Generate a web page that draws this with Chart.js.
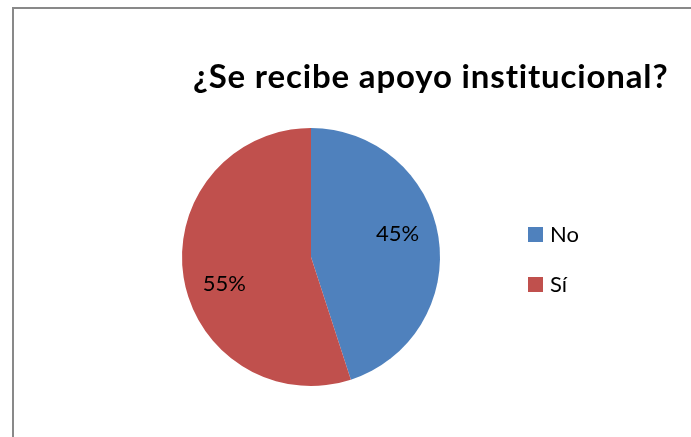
<!DOCTYPE html>
<html><head><meta charset="utf-8">
<script src="https://cdn.jsdelivr.net/npm/chart.js@4.4.1/dist/chart.umd.min.js"></script>
<style>html,body{margin:0;padding:0;background:#fff;}#wrap{width:691px;height:437px;position:relative;}</style>
</head><body><div id="wrap"><canvas id="c" width="691" height="437"></canvas></div>
<script>
const titleText = '¿Se recibe apoyo institucional?';
const categories = ['No', 'Sí'];
const values = [45, 55];
const colors = ['#4F81BD', '#C0504D'];
const FONT = 'Lato, "Open Sans", sans-serif';

const overlay = {
  id: 'overlay',
  beforeDraw(chart) {
    const ctx = chart.ctx;
    ctx.save();
    ctx.fillStyle = '#fff';
    ctx.fillRect(0, 0, chart.width, chart.height);
    ctx.strokeStyle = '#898989';
    ctx.lineWidth = 2;
    ctx.beginPath();
    ctx.moveTo(13, 440); ctx.lineTo(13, 8); ctx.lineTo(700, 8);
    ctx.stroke();
    ctx.restore();
  },
  afterDraw(chart) {
    const ctx = chart.ctx;
    ctx.save();
    // title
    ctx.fillStyle = '#000';
    ctx.font = 'bold 33px ' + FONT;
    ctx.textBaseline = 'alphabetic';
    ctx.textAlign = 'left';
    const w0 = ctx.measureText(titleText).width;
    const targetW = 475;
    const sp = (targetW - w0) / (titleText.length - 1);
    if ('letterSpacing' in ctx) {
      ctx.letterSpacing = sp.toFixed(2) + 'px';
      ctx.fillText(titleText, 193, 88);
      ctx.letterSpacing = '0px';
    } else {
      let x = 193;
      for (const ch of titleText) { ctx.fillText(ch, x, 88); x += ctx.measureText(ch).width + sp; }
    }
    // data labels
    const meta = chart.getDatasetMeta(0);
    const total = values.reduce((a, b) => a + b, 0);
    ctx.font = '22px ' + FONT;
    ctx.textAlign = 'center';
    ctx.textBaseline = 'middle';
    meta.data.forEach((arc, i) => {
      const mid = (arc.startAngle + arc.endAngle) / 2;
      const r = arc.outerRadius * 0.68;
      const x = arc.x + Math.cos(mid) * r;
      const y = arc.y + Math.sin(mid) * r + (i === 0 ? -9 : 13);
      ctx.fillText(Math.round(values[i] / total * 100) + '%', x, y);
    });
    // legend
    ctx.textAlign = 'left';
    categories.forEach((c, i) => {
      const y = 234 + i * 50;
      ctx.fillStyle = colors[i];
      ctx.fillRect(528, y - 7, 15, 15);
      ctx.fillStyle = '#000';
      ctx.fillText(c, 550, y + 1);
    });
    ctx.restore();
  }
};

new Chart(document.getElementById('c'), {
  type: 'pie',
  data: { labels: categories, datasets: [{ data: values, backgroundColor: colors, borderWidth: 0 }] },
  options: {
    responsive: false, animation: false,
    layout: { padding: { left: 182, right: 251, top: 128, bottom: 51 } },
    plugins: { legend: { display: false }, title: { display: false }, tooltip: { enabled: false } }
  },
  plugins: [overlay]
});
</script></body></html>
